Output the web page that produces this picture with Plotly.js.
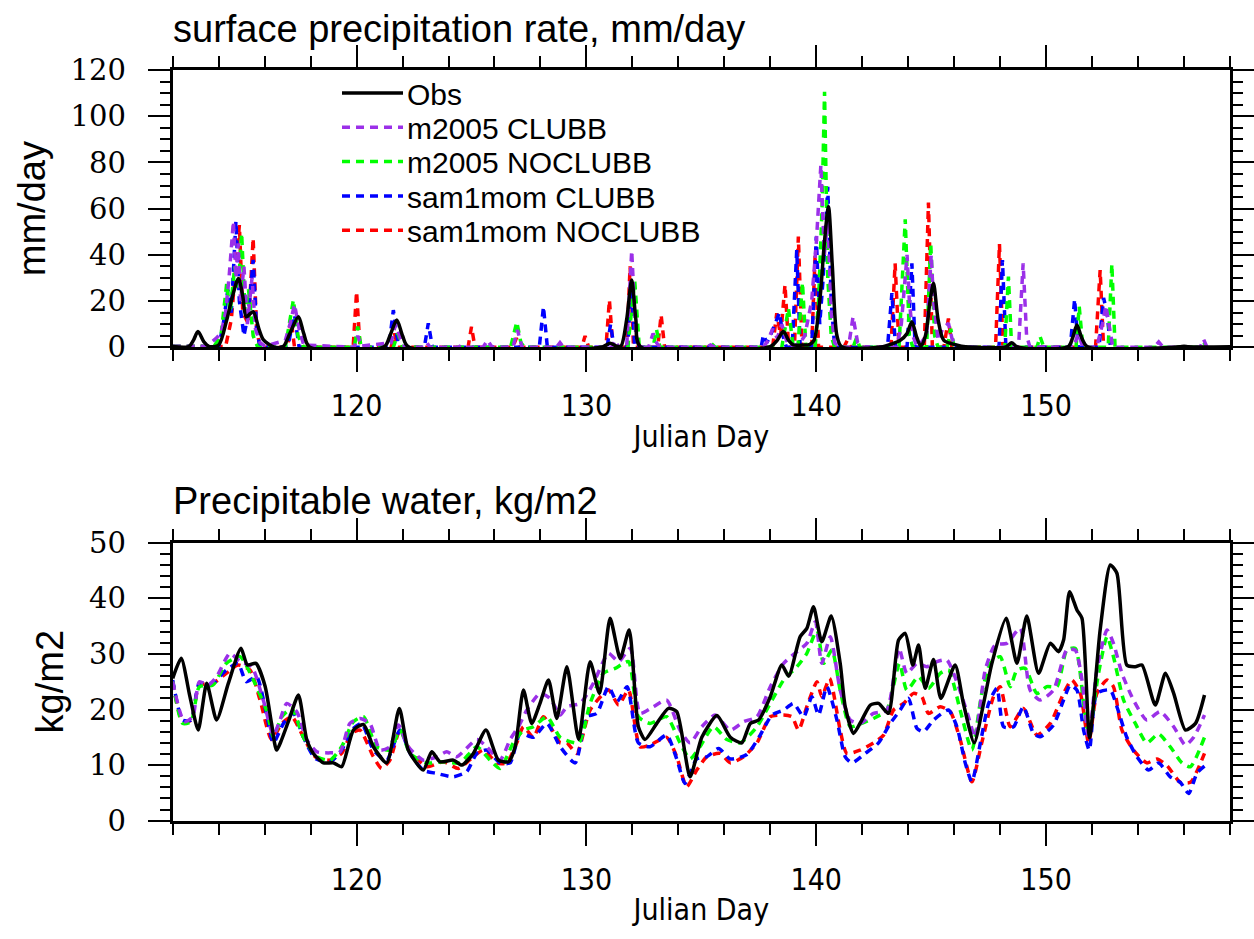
<!DOCTYPE html>
<html>
<head>
<meta charset="utf-8">
<script src="https://cdn.plot.ly/plotly-3.0.1.min.js"></script>
<style>html,body{margin:0;padding:0;background:#fff;}#chart{width:1254px;height:939px;}</style>
</head>
<body>
<div id="chart"></div>
<script>
// ---------------- DATA ----------------
// Surface precipitation rate (mm/day)
var obsPrecipDay = [112.0,112.7,112.9,113.1,113.35,113.6,114.0,114.35,114.6,114.86,115.05,115.2,115.5,115.75,115.95,116.4,116.8,117.1,117.47,117.7,117.95,121.2,121.45,121.75,122.0,122.25,130.7,131.03,131.3,131.5,131.75,131.97,132.15,132.35,138.0,138.3,138.57,138.8,139.0,139.4,139.7,139.9,140.17,140.35,140.53,140.7,140.9,141.1,142.9,143.3,143.65,143.95,144.16,144.35,144.55,144.75,144.95,145.1,145.3,145.55,146.1,146.5,148.25,148.5,148.75,150.95,151.15,151.34,151.55,151.8,155.8,156.0,156.2,158.0];
var obsPrecipVal = [0.3,0.3,3.0,6.8,2.5,0.3,1.0,11.8,22.0,29.8,22.0,13.2,15.4,8.0,3.2,0.2,0.3,6.0,13.2,6.0,0.2,0.2,5.0,11.8,5.0,0.2,0.2,1.8,0.5,0.5,12.0,29.1,12.0,0.2,0.3,3.0,6.8,3.0,1.0,1.0,1.2,3.0,22.0,45.0,60.8,35.0,5.0,0.3,0.3,1.5,3.0,6.0,11.1,5.0,0.5,5.0,20.0,27.7,12.0,3.0,1.0,0.2,0.2,2.0,0.2,0.2,4.0,9.6,4.0,0.2,0.2,0.5,0.2,0.2];

var m2005ClubbPrecipDay = [112.0,113.5,113.9,114.1,114.3,114.45,114.64,114.75,114.85,114.95,115.1,115.25,115.45,115.6,115.8,116.0,116.9,117.1,117.3,117.5,117.7,119.9,120.05,120.2,121.5,121.7,121.9,122.1,122.9,123.05,123.2,124.4,124.6,124.8,125.5,125.7,125.9,126.8,127.0,127.2,128.7,128.85,129.0,131.1,131.25,131.4,131.75,131.97,132.15,132.3,132.7,132.9,133.05,133.2,135.2,135.4,135.6,137.7,137.9,138.1,138.3,138.5,138.7,138.9,139.3,139.5,139.8,140.0,140.2,140.35,140.5,140.65,140.8,141.0,141.4,141.6,141.8,142.0,143.5,143.7,143.85,143.95,144.05,144.2,144.4,144.8,145.0,145.1,145.3,145.5,145.75,145.9,146.1,148.8,149.0,149.15,149.3,151.2,151.4,151.6,152.2,152.45,152.6,152.75,152.9,154.7,154.9,155.1,156.7,156.85,157.0];
var m2005ClubbPrecipVal = [0.5,0.5,4.0,6.0,15.0,30.0,54.4,30.0,45.0,20.0,35.0,10.0,30.0,8.0,2.0,0.5,3.0,10.0,18.5,8.0,1.0,0.0,5.0,0.5,2.0,10.0,4.0,0.0,0.0,2.0,0.0,0.0,1.0,0.0,0.0,3.0,0.0,0.0,7.5,0.0,0.0,2.0,0.0,0.0,3.0,0.0,0.0,41.8,5.0,0.0,0.0,6.0,2.0,0.0,0.0,1.0,0.0,0.0,3.0,8.0,4.0,10.0,3.0,0.0,2.0,5.0,20.0,45.0,78.9,40.0,55.0,15.0,2.0,0.0,0.0,13.2,2.0,0.0,0.0,10.0,28.0,40.0,20.0,5.0,0.0,5.0,40.0,20.0,3.0,8.0,10.4,4.0,0.0,0.0,36.3,5.0,0.0,0.0,6.0,0.0,0.0,10.0,18.0,8.0,0.0,0.0,2.3,0.0,0.0,3.5,0.0];

var m2005NoclubbPrecipDay = [112.0,113.8,114.1,114.35,114.5,114.7,114.85,115.0,115.15,115.3,115.5,115.7,116.9,117.1,117.25,117.45,117.7,119.9,120.05,120.2,121.6,121.8,122.0,126.7,126.97,127.15,127.3,131.8,132.1,132.3,132.9,133.05,133.2,135.4,135.5,135.6,138.5,138.79,139.0,139.2,139.4,139.55,139.95,140.1,140.25,140.36,140.5,140.65,140.8,141.6,141.75,141.9,143.6,143.87,144.05,144.2,144.8,144.98,145.15,145.3,145.7,145.85,146.0,148.2,148.36,148.5,149.6,149.74,149.9,151.3,151.44,151.6,152.7,152.86,153.0,156.75,156.85,157.0];
var m2005NoclubbPrecipVal = [0.5,0.5,5.0,27.7,15.0,35.0,25.0,49.3,15.0,25.0,5.0,0.0,0.0,12.0,20.5,5.0,0.0,0.0,9.0,0.0,0.0,6.0,0.0,0.0,11.0,2.0,0.0,0.0,29.0,0.0,0.0,7.7,0.0,0.0,1.0,0.0,0.0,16.9,0.0,0.0,28.0,0.0,0.0,20.0,60.0,110.6,30.0,5.0,0.0,0.0,4.0,0.0,0.0,55.4,5.0,0.0,0.0,45.0,5.0,0.0,0.0,8.0,0.0,0.0,30.6,0.0,0.0,4.6,0.0,0.0,17.6,0.0,0.0,36.0,0.0,0.0,1.0,0.0];

var sam1momClubbPrecipDay = [112.0,114.0,114.2,114.4,114.55,114.75,114.9,115.1,115.3,115.5,115.65,115.8,117.0,117.3,117.5,121.4,121.6,121.8,122.0,122.95,123.12,123.3,127.95,128.13,128.3,130.9,131.05,131.2,131.8,131.95,132.1,137.6,137.7,137.85,138.0,138.2,138.4,138.55,138.7,138.95,139.15,139.3,139.8,140.0,140.15,140.3,140.5,140.65,140.8,143.1,143.29,143.45,143.95,144.16,144.3,147.95,148.1,148.25,151.05,151.24,151.4,152.3,152.5,152.65,152.8];
var sam1momClubbPrecipVal = [0.3,0.3,10.0,25.0,15.0,54.6,20.0,5.0,15.0,37.8,8.0,0.0,0.0,14.0,0.0,0.0,16.1,2.0,0.0,0.0,10.4,0.0,0.0,17.6,0.0,0.0,10.0,0.0,0.0,29.0,0.0,0.0,5.3,2.0,5.0,10.0,15.0,5.0,0.0,0.0,42.1,0.0,0.0,47.9,10.0,30.0,69.5,20.0,0.0,0.0,23.4,0.0,0.0,36.3,0.0,0.0,37.8,0.0,0.0,20.8,0.0,0.0,21.4,15.0,0.0];

var sam1momNoclubbPrecipDay = [112.0,114.3,114.55,114.7,114.9,115.05,115.3,115.5,115.65,115.8,117.0,117.15,117.3,119.85,120.0,120.15,121.5,121.65,121.8,124.85,125.0,125.15,126.8,126.95,127.1,129.8,129.94,130.1,130.85,131.0,131.15,131.75,131.9,132.05,133.1,133.25,133.4,138.1,138.28,138.45,138.64,138.8,139.05,139.22,139.38,139.8,139.95,140.1,141.2,141.35,141.5,143.25,143.43,143.6,144.7,144.88,145.05,145.55,145.75,145.9,147.8,147.97,148.12,152.15,152.35,152.5];
var sam1momNoclubbPrecipVal = [0.3,0.3,12.0,30.0,52.9,15.0,10.0,47.2,8.0,0.0,0.0,12.0,0.0,0.0,24.1,0.0,0.0,6.0,0.0,0.0,8.9,0.0,0.0,4.0,0.0,0.0,4.9,0.0,0.0,20.5,0.0,0.0,35.0,0.0,0.0,14.0,0.0,0.0,14.7,5.0,27.0,0.0,0.0,47.9,0.0,0.0,40.0,0.0,0.0,3.0,0.0,0.0,36.3,0.0,0.0,62.6,0.0,0.0,12.5,0.0,0.0,44.7,0.0,0.0,33.4,0.0];

// Precipitable water (kg/m2)
var obsPwDay = [112.0,112.37,112.75,113.11,113.48,113.91,114.42,114.97,115.25,115.62,116.02,116.3,116.52,117.03,117.47,117.83,118.12,118.56,118.99,119.35,119.86,120.3,120.73,121.31,121.86,122.25,122.9,123.27,123.63,124.21,124.58,125.08,125.63,126.17,126.61,126.9,127.26,127.62,127.98,128.35,128.71,129.15,129.66,130.16,130.57,131.03,131.47,131.86,132.26,132.55,133.06,133.57,133.93,134.51,135.02,135.68,136.26,136.76,137.13,137.49,138.0,138.5,138.8,139.3,139.59,139.88,140.24,140.65,141.04,141.26,141.62,141.98,142.35,142.71,143.14,143.58,143.87,144.2,144.45,144.74,145.1,145.42,146.04,146.4,146.87,147.28,147.64,148.26,148.73,149.16,149.67,150.18,150.54,150.76,151.02,151.34,151.56,151.89,152.35,152.79,153.08,153.51,153.88,154.17,154.75,155.19,155.55,156.06,156.5,156.89];
var obsPwVal = [25.6,29.2,22.3,16.3,24.7,18.1,24.7,31.0,28.0,28.3,24.2,17.5,12.7,17.8,22.6,14.6,12.1,10.4,10.4,9.7,16.3,17.3,13.3,10.4,20.2,12.7,9.1,12.4,10.6,10.9,10.0,12.1,16.3,10.9,10.6,13.3,23.5,17.5,21.1,25.3,18.4,27.7,14.6,28.6,22.9,36.4,29.2,34.3,16.9,14.6,17.5,20.2,19.6,7.9,15.0,18.9,15.0,14.0,17.5,18.1,22.3,28.0,26.0,33.1,34.6,38.5,32.2,36.8,28.3,20.5,15.7,18.1,20.8,21.1,19.3,32.5,33.7,28.0,31.6,23.8,29.0,22.0,28.0,21.1,14.0,21.1,28.3,36.4,28.3,36.8,26.5,31.9,30.4,32.5,41.2,37.9,36.4,14.9,34.3,46.0,44.5,28.0,27.7,28.0,20.8,26.5,22.9,16.3,17.5,22.6];

var m2005ClubbPwDay = [112.0,112.29,112.5,112.87,113.16,113.55,113.91,114.49,114.93,115.44,115.94,116.38,116.67,116.96,117.4,117.83,118.27,118.85,119.28,119.71,120.15,120.58,121.02,121.45,121.82,122.25,122.9,123.49,123.92,124.36,125.23,125.66,126.24,126.68,127.04,127.41,127.98,128.42,128.86,129.15,129.73,130.3,130.96,131.4,131.91,132.33,132.91,133.49,134.07,134.51,135.02,135.6,136.26,136.84,137.42,138.0,138.58,139.16,139.59,139.96,140.24,140.61,141.04,141.48,141.91,142.49,143.07,143.6,143.94,144.38,144.81,145.25,145.68,146.19,146.62,146.91,147.35,147.78,148.29,148.87,149.3,149.74,150.32,150.9,151.27,151.56,151.85,152.21,152.65,152.93,153.3,153.8,154.38,154.96,155.55,156.06,156.42,156.89];
var m2005ClubbPwVal = [25.0,19.9,17.8,18.7,25.0,24.4,25.9,30.1,28.6,27.7,21.7,15.4,18.1,21.1,19.6,14.6,12.4,12.2,12.4,17.5,18.4,17.5,12.7,13.3,17.2,13.3,10.9,11.5,12.4,11.5,14.6,13.3,10.9,14.6,16.9,19.9,22.9,22.0,19.0,20.5,21.1,24.7,30.1,28.6,31.0,19.3,20.5,21.7,16.3,14.0,16.9,19.0,16.3,17.8,18.7,24.1,28.3,30.4,31.9,35.8,28.3,33.1,23.5,18.1,17.5,19.3,19.9,31.0,26.5,28.3,27.7,28.6,28.9,24.1,18.7,15.0,27.1,31.6,31.9,34.6,23.5,21.7,23.5,30.7,30.7,25.3,15.0,27.1,34.3,31.9,26.5,21.7,18.1,19.6,16.9,13.6,15.0,19.0];

var m2005NoclubbPwDay = [112.0,112.43,112.8,113.16,113.75,114.33,114.93,115.51,116.1,116.38,116.75,117.18,117.69,118.27,118.85,119.35,119.86,120.3,120.88,121.45,121.89,122.33,123.05,123.78,124.5,125.23,125.81,126.24,126.82,127.26,127.69,128.28,128.86,129.66,130.16,130.74,131.25,131.83,132.26,132.77,133.49,134.07,134.51,134.94,135.53,136.11,136.69,137.42,138.0,138.58,139.16,139.59,140.03,140.32,140.68,141.04,141.48,141.98,142.49,143.07,143.62,143.94,144.45,144.88,145.39,145.75,146.26,146.77,147.2,147.57,148.0,148.44,148.73,149.09,149.6,150.03,150.47,150.9,151.27,151.63,151.85,152.28,152.65,152.93,153.37,153.88,154.38,154.89,155.4,155.91,156.28,156.89];
var m2005NoclubbPwVal = [25.0,17.5,17.8,24.1,24.4,28.3,29.5,25.3,19.6,15.0,18.7,20.2,15.0,11.5,10.9,13.3,17.8,18.7,13.3,12.7,16.3,12.1,10.4,10.6,10.4,13.3,10.9,9.4,14.0,16.3,16.9,18.7,15.0,14.0,21.1,26.5,27.4,28.6,18.7,17.5,18.7,14.0,11.1,13.3,16.9,14.6,14.0,16.9,21.1,25.3,27.7,30.1,34.3,28.3,30.7,23.5,16.9,17.5,18.4,19.9,28.3,23.5,25.9,23.8,26.5,27.1,19.9,12.7,22.9,28.3,29.5,24.1,27.1,27.4,22.9,24.1,24.1,30.7,31.0,21.1,15.6,26.5,33.1,29.5,21.7,17.5,14.0,15.6,13.3,10.4,9.7,15.0];

var sam1momClubbPwDay = [112.0,112.43,112.8,113.16,113.75,114.33,114.84,115.2,115.65,116.1,116.38,116.82,117.25,117.69,118.2,118.85,119.35,119.78,120.22,120.73,121.31,121.89,122.33,122.9,123.49,124.21,124.79,125.23,125.66,126.24,126.68,127.12,127.69,128.28,128.86,129.51,130.01,130.45,130.96,131.33,131.77,132.26,132.77,133.49,133.93,134.29,134.8,135.24,135.75,136.26,136.98,137.56,138.07,138.58,139.01,139.45,139.81,140.1,140.46,140.9,141.26,141.55,142.13,142.71,143.22,143.65,144.01,144.38,144.67,145.1,145.75,146.12,146.48,146.77,147.14,147.5,147.86,148.15,148.58,149.01,149.45,149.74,150.32,150.76,151.05,151.34,151.63,151.88,152.21,152.79,153.08,153.51,153.95,154.46,154.89,155.4,155.84,156.2,156.57,156.89];
var sam1momClubbPwVal = [25.3,18.1,18.1,24.7,24.7,27.1,28.3,25.0,25.9,18.7,14.0,17.5,19.3,15.0,11.2,10.6,12.7,16.3,17.5,12.7,10.9,16.3,12.1,9.1,8.5,7.9,8.8,12.1,12.7,10.4,10.4,15.7,15.0,17.5,13.3,10.4,18.7,19.3,24.1,21.4,24.1,14.0,13.3,15.4,11.1,6.7,11.1,11.5,13.0,11.1,11.9,15.4,19.0,19.9,21.1,18.7,22.3,19.0,24.1,18.1,11.5,10.4,12.1,14.0,17.5,19.9,22.0,16.6,16.0,18.1,19.9,16.9,10.4,7.0,14.0,21.1,23.8,16.9,16.9,20.5,15.7,15.1,17.2,21.7,24.4,23.5,16.3,12.7,22.9,23.5,20.5,15.0,11.5,9.1,10.4,7.9,6.9,4.9,8.6,9.8];

var sam1momNoclubbPwDay = [112.0,112.43,112.8,113.16,113.75,114.33,114.84,115.36,115.8,116.3,116.75,117.18,117.69,118.2,118.85,119.35,119.78,120.15,120.73,121.09,121.45,121.89,122.33,123.05,123.78,124.43,125.08,125.52,126.1,126.53,126.97,127.26,127.69,128.13,128.86,129.15,129.58,130.16,130.96,131.4,131.83,132.33,132.77,133.49,133.93,134.36,134.8,135.24,135.82,136.26,136.84,137.42,138.0,138.58,138.94,139.23,139.59,140.03,140.24,140.58,141.04,141.33,141.91,142.49,142.93,143.36,143.8,144.23,144.59,144.88,145.39,145.83,146.26,146.77,147.2,147.71,148.0,148.44,149.01,149.6,150.18,150.76,151.12,151.49,151.85,152.21,152.65,152.93,153.3,153.8,154.38,154.82,155.26,155.84,156.28,156.89];
var sam1momNoclubbPwVal = [25.0,17.8,18.1,24.4,24.7,26.5,28.0,27.1,21.7,14.6,17.5,18.7,15.0,11.5,10.9,12.1,15.7,16.3,11.5,9.4,10.9,16.3,12.7,9.7,10.6,9.4,11.5,12.7,10.4,10.4,14.0,16.9,15.0,18.7,14.0,14.0,12.1,19.9,23.5,20.8,23.5,13.3,13.6,15.0,11.5,6.1,9.1,11.5,12.1,10.4,11.5,14.0,18.7,19.0,18.7,16.3,20.5,25.0,22.3,25.6,16.3,12.1,12.7,14.0,15.4,19.9,21.1,22.9,22.3,19.3,20.5,19.6,14.6,7.0,14.0,22.3,24.1,16.9,20.2,15.4,17.5,22.9,25.3,22.9,14.0,22.9,25.3,24.1,16.3,12.7,10.4,11.1,9.9,6.9,6.9,12.1];

var seriesNames = ['Obs','m2005 CLUBB','m2005 NOCLUBB','sam1mom CLUBB','sam1mom NOCLUBB'];
var seriesColors = ['#000000','#9b30e8','#00ff00','#0000ff','#ff0000'];
var xTickVals = [120,130,140,150];
var precipTitle = 'surface precipitation rate, mm/day';
var pwTitle = 'Precipitable water, kg/m2';

// ---------------- TRACES ----------------
var precipX = [obsPrecipDay, m2005ClubbPrecipDay, m2005NoclubbPrecipDay, sam1momClubbPrecipDay, sam1momNoclubbPrecipDay];
var precipY = [obsPrecipVal, m2005ClubbPrecipVal, m2005NoclubbPrecipVal, sam1momClubbPrecipVal, sam1momNoclubbPrecipVal];
var pwX = [obsPwDay, m2005ClubbPwDay, m2005NoclubbPwDay, sam1momClubbPwDay, sam1momNoclubbPwDay];
var pwY = [obsPwVal, m2005ClubbPwVal, m2005NoclubbPwVal, sam1momClubbPwVal, sam1momNoclubbPwVal];

var traces = [];
for (var k = 4; k >= 0; k--) {
  traces.push({
    x: precipX[k], y: precipY[k], xaxis: 'x', yaxis: 'y', type: 'scatter', mode: 'lines',
    name: seriesNames[k], legendrank: k + 1, showlegend: true,
    line: {color: seriesColors[k], width: 3.5, dash: k === 0 ? 'solid' : '8px,6px',
           shape: k === 0 ? 'spline' : 'linear', smoothing: 0.8}
  });
}
for (var k = 4; k >= 0; k--) {
  traces.push({
    x: pwX[k], y: pwY[k], xaxis: 'x2', yaxis: 'y2', type: 'scatter', mode: 'lines',
    name: seriesNames[k], showlegend: false,
    line: {color: seriesColors[k], width: 3.5, dash: k === 0 ? 'solid' : '8px,6px', shape: 'spline', smoothing: 0.6}
  });
}

var xDom = [172.7/1254, 1230/1254];
var tickFontX = {family: 'Liberation Sans Narrow, DejaVu Sans Condensed, Liberation Sans, sans-serif', size: 30, color: '#000'};
var tickFontY = {family: 'DejaVu Serif, Liberation Serif, serif', size: 29, color: '#000'};
var titleFont = {family: 'Liberation Sans, Arial, sans-serif', size: 38, color: '#000'};
var axTitleX = {family: 'Liberation Sans Narrow, DejaVu Sans Condensed, Liberation Sans, sans-serif', size: 30, color: '#000'};

function xAxis(anchor) {
  return {
    domain: xDom, anchor: anchor, range: [112, 158], tickvals: xTickVals, ticktext: xTickVals.map(String),
    ticks: 'outside', ticklen: 22, tickwidth: 2, tickcolor: '#000',
    minor: {dtick: 2, tick0: 112, ticks: 'outside', ticklen: 11, tickwidth: 2, tickcolor: '#000', showgrid: false},
    showline: true, linewidth: 3, linecolor: '#000', mirror: 'allticks',
    showgrid: false, zeroline: false, tickfont: tickFontX, ticklabelstandoff: 8,
    title: {text: 'Julian Day', font: axTitleX, standoff: 4}
  };
}
function yAxis(anchor, dom, rng, dt, mdt, ttl) {
  return {
    domain: dom, anchor: anchor, range: rng, dtick: dt, tick0: 0,
    ticks: 'outside', ticklen: 22, tickwidth: 2, tickcolor: '#000',
    minor: {dtick: mdt, tick0: 0, ticks: 'outside', ticklen: 10, tickwidth: 2, tickcolor: '#000', showgrid: false},
    showline: true, linewidth: 3, linecolor: '#000', mirror: 'allticks',
    showgrid: false, zeroline: false, tickfont: tickFontY, ticklabelstandoff: 16,
    title: {text: ttl, font: titleFont, standoff: 14}
  };
}

var layout = {
  width: 1254, height: 939,
  margin: {l: 0, r: 0, t: 0, b: 0},
  paper_bgcolor: '#fff', plot_bgcolor: '#fff',
  showlegend: true,
  xaxis: xAxis('y'),
  yaxis: yAxis('x', [(939-347.3)/939, (939-70)/939], [0, 120], 20, 5, 'mm/day'),
  xaxis2: xAxis('y2'),
  yaxis2: yAxis('x2', [(939-820.7)/939, (939-542.7)/939], [0, 50], 10, 2, 'kg/m2'),
  legend: {x: 337/1254, y: (939-74)/939, xanchor: 'left', yanchor: 'top', bgcolor: 'rgba(0,0,0,0)',
           borderwidth: 0, font: {family: 'Liberation Sans, Arial, sans-serif', size: 30, color: '#000'},
           traceorder: 'normal', itemwidth: 60, tracegroupgap: 0},
  annotations: [
    {text: precipTitle, xref: 'paper', yref: 'paper', x: 171/1254, y: (939-52)/939, xanchor: 'left', yanchor: 'bottom',
     showarrow: false, font: titleFont},
    {text: pwTitle, xref: 'paper', yref: 'paper', x: 171/1254, y: (939-524)/939, xanchor: 'left', yanchor: 'bottom',
     showarrow: false, font: titleFont}
  ]
};

Plotly.newPlot('chart', traces, layout, {staticPlot: true, displayModeBar: false}).then(function (gd) {
  // tighten legend rows and lengthen the legend line samples to match the reference key
  var items = gd.querySelectorAll('.legend .traces');
  var y0 = null;
  items.forEach(function (el, i) {
    var m = /translate\(([-\d.]+)[ ,]+([-\d.]+)\)/.exec(el.getAttribute('transform') || '');
    if (!m) return;
    var x = parseFloat(m[1]), y = parseFloat(m[2]);
    if (y0 === null) y0 = y - 7;
    el.setAttribute('transform', 'translate(' + x + ',' + (y0 + i * 34.3) + ')');
  });
  gd.querySelectorAll('.legend .legendlines path').forEach(function (p) {
    p.setAttribute('d', 'M5,0h61');
  });
});
</script>
</body>
</html>
